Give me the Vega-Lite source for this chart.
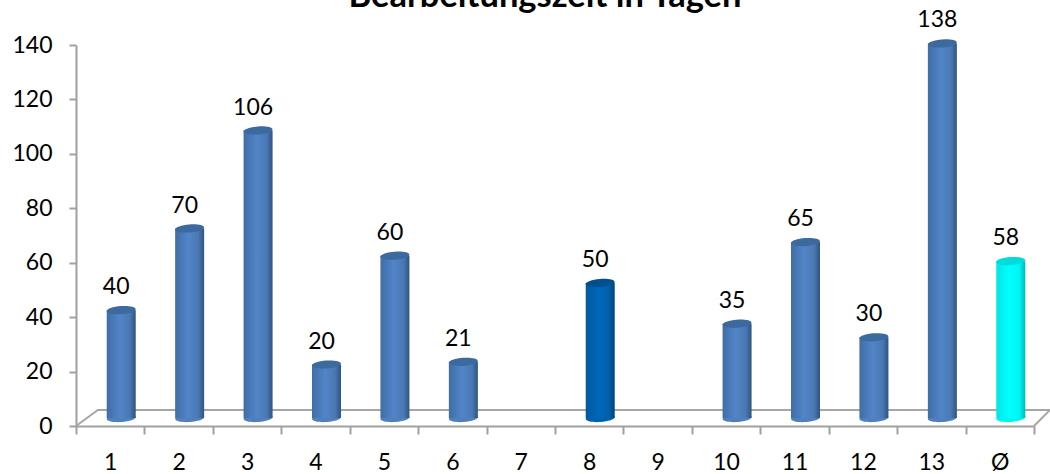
{
"$schema":"https://vega.github.io/schema/vega-lite/v6.json",
"width":958,"height":381,
"autosize":"none",
"padding":{"left":76,"top":45,"right":16,"bottom":48},
"background":"white",
"title":{"text":"Bearbeitungszeit in Tagen","font":"Lato","fontSize":34.5,"fontWeight":"bold","color":"#000000","anchor":"middle","frame":"group","orient":"top","offset":3,"dx":-10,"dy":35,"baseline":"alphabetic"},
"datasets":{
"bars":[
{"n":"1","v":40,"g":"a"},{"n":"2","v":70,"g":"a"},{"n":"3","v":106,"g":"a"},{"n":"4","v":20,"g":"a"},{"n":"5","v":60,"g":"a"},{"n":"6","v":21,"g":"a"},{"n":"7","v":null,"g":"a"},{"n":"8","v":50,"g":"b"},{"n":"9","v":null,"g":"a"},{"n":"10","v":35,"g":"a"},{"n":"11","v":65,"g":"a"},{"n":"12","v":30,"g":"a"},{"n":"13","v":138,"g":"a"},{"n":"Ø","v":58,"g":"c"}],
"floor":[{"p":0,"q":0},{"p":0.32,"q":5.9},{"p":14.234,"q":5.9},{"p":14,"q":0}]
},
"layer":[
{"data":{"name":"floor"},
 "mark":{"type":"line","color":"#a6a6a6","strokeWidth":2,"clip":false},
 "encoding":{
  "x":{"field":"p","type":"quantitative","scale":{"domain":[0,14],"nice":false,"zero":false},"axis":null},
  "y":{"field":"q","type":"quantitative","scale":{"domain":[0,140],"nice":false},"axis":{"values":[0,20,40,60,80,100,120,140],"title":null,"grid":false,"domainColor":"#a0a0a0","domainWidth":2,"tickColor":"#a0a0a0","tickWidth":2,"tickSize":7,"labelFont":"Lato","labelFontSize":23,"labelColor":"#000000","labelPadding":17}},
  "order":{"field":"none"}
 }},
{"data":{"name":"bars"},
 "mark":{"type":"point","shape":"M-1,0A1,0.28,0,1,0,1,0A1,0.28,0,1,0,-1,0Z","filled":true,"size":841,"opacity":1,"strokeWidth":0,"xOffset":11,"yOffset":-8,"angle":-4},
 "encoding":{
  "x":{"field":"n","type":"nominal","sort":null,"scale":{"type":"band","paddingInner":0,"paddingOuter":0,"domain":["1","2","3","4","5","6","7","8","9","10","11","12","13","Ø"]},"axis":{"title":null,"labelAngle":0,"orient":"bottom","grid":false,"domainColor":"#a0a0a0","domainWidth":2,"tickColor":"#a0a0a0","tickWidth":2,"tickSize":8,"tickBand":"extent","labelFont":"Lato","labelFontSize":23,"labelColor":"#000000","labelPadding":17}},
  "y":{"datum":0},
  "opacity":{"condition":{"test":"datum.v===null","value":0},"value":1},
  "fill":{"field":"g","type":"nominal","legend":null,"scale":{"domain":["a","b","c"],"range":["#4f7fbc","#0062ad","#00f4f4"]}}
 }},
{"data":{"name":"bars"},
 "transform":[{"filter":"datum.v!==null"}],
 "mark":{"type":"bar","width":29,"xOffset":11,"yOffset":-7,"y2Offset":-8},
 "encoding":{
  "x":{"field":"n","type":"nominal","sort":null,"scale":{"type":"band","paddingInner":0,"paddingOuter":0,"domain":["1","2","3","4","5","6","7","8","9","10","11","12","13","Ø"]},"axis":null},
  "y":{"field":"v","type":"quantitative"},
  "y2":{"datum":0},
  "fill":{"condition":[
   {"test":"datum.g==='b'","value":{"gradient":"linear","x1":0,"x2":1,"y1":0,"y2":0,"stops":[{"offset":0,"color":"#0058a0"},{"offset":0.45,"color":"#0068b8"},{"offset":0.8,"color":"#0060aa"},{"offset":1,"color":"#00457c"}]}},
   {"test":"datum.g==='c'","value":{"gradient":"linear","x1":0,"x2":1,"y1":0,"y2":0,"stops":[{"offset":0,"color":"#00e6e6"},{"offset":0.45,"color":"#00ffff"},{"offset":0.8,"color":"#00f4f4"},{"offset":1,"color":"#00b8b8"}]}}],
   "value":{"gradient":"linear","x1":0,"x2":1,"y1":0,"y2":0,"stops":[{"offset":0,"color":"#3f6da6"},{"offset":0.45,"color":"#5285c8"},{"offset":0.8,"color":"#4a78b2"},{"offset":1,"color":"#2f5380"}]}}
 }},
{"data":{"name":"bars"},
 "transform":[{"filter":"datum.v!==null"}],
 "mark":{"type":"point","shape":"M-1,0A1,0.28,0,1,0,1,0A1,0.28,0,1,0,-1,0Z","filled":true,"size":841,"opacity":1,"strokeWidth":0,"xOffset":11,"yOffset":-7,"angle":-4},
 "encoding":{
  "x":{"field":"n","type":"nominal","sort":null,"scale":{"type":"band","paddingInner":0,"paddingOuter":0,"domain":["1","2","3","4","5","6","7","8","9","10","11","12","13","Ø"]},"axis":null},
  "y":{"field":"v","type":"quantitative"},
  "fill":{"field":"g","type":"nominal","legend":null,"scale":{"domain":["a","b","c"],"range":["#3c6a9f","#00508f","#00dcdc"]}}
 }},
{"data":{"name":"bars"},
 "transform":[{"filter":"datum.v!==null"}],
 "mark":{"type":"text","font":"Lato","fontSize":23,"color":"#000000","baseline":"alphabetic","align":"center","dx":6,"dy":-23},
 "encoding":{
  "x":{"field":"n","type":"nominal","sort":null,"scale":{"type":"band","paddingInner":0,"paddingOuter":0,"domain":["1","2","3","4","5","6","7","8","9","10","11","12","13","Ø"]},"axis":null},
  "y":{"field":"v","type":"quantitative"},
  "text":{"field":"v","type":"quantitative"}
 }}
],
"resolve":{"scale":{"x":"independent","fill":"independent"}},
"config":{"view":{"stroke":null}}
}
